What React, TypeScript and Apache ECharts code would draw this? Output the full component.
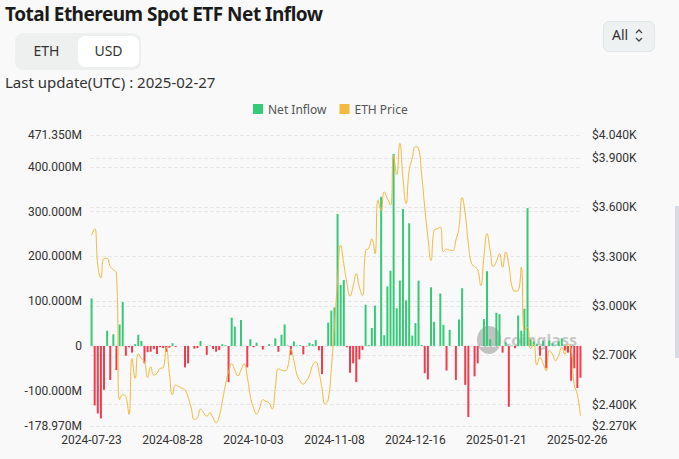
import React, { useEffect, useRef } from "react";
import * as echarts from "echarts";

// ---------- data ----------
const firstDay = "2024-07-23";
const lastDay = "2025-02-27";

// Net inflow per trading day, in millions of USD
const netInflow: number[] = [
  106, -133, -151, -162, -98, 34, -76, 26, -54, 48,
  98, -22, -3, -15, 4, 25, 11, -39, -14, -13,
  -7, -18, -3, -5, -13, -4, 6, -2, 0, 0,
  -48, -39, 0, -6, -5, 11, 0, -20, 1, -7,
  -13, -9, 4, 2, -81, 63, 43, 0, 58, 0,
  -48, 15, -3, 7, 0, -8, 0, 4, 0, 17,
  -13, 25, 48, 1, -20, 10, 1, 2, -19, -1,
  7, 4, 13, -10, -63, 0, 52, 79, 86, 295,
  136, 147, -3, -60, -39, -81, -30, -9, 92, 2,
  40, 90, 0, 333, 24, 133, 168, 429, 84, 146,
  306, 102, 274, 23, 51, 146, 2, -61, -75, 131,
  54, 0, 117, 47, -55, 36, 0, -76, 59, 129,
  -87, -159, 0, -68, -39, 0, 60, 167, 15, 0,
  74, 71, -15, 8, -136, 1, -5, 68, 34, 83,
  308, 15, 10, 5, -22, 12, -50, 12, 6, 0,
  10, 17, -10, -15, -78, -50, -94, -71,
];

// ETH price (USD) per trading day
const ethPrice: number[] = [
  3430, 3470, 3250, 3170, 3290, 3290, 3240, 3220, 3200, 2430,
  2460, 2450, 2340, 2680, 2560, 2710, 2680, 2660, 2565, 2630,
  2580, 2590, 2620, 2625, 2748, 2590, 2460, 2520, 2510, 2500,
  2490, 2445, 2380, 2310, 2320, 2373, 2350, 2330, 2350, 2320,
  2290, 2330, 2420, 2520, 2600, 2648, 2610, 2575, 2610, 2648,
  2570, 2450, 2380, 2343, 2380, 2430, 2420, 2410, 2373, 2500,
  2618, 2610, 2605, 2630, 2738, 2667, 2580, 2545, 2524, 2545,
  2580, 2640, 2660, 2600, 2500, 2404, 2430, 2620, 2880, 3155,
  3369, 3257, 3140, 3060, 3120, 3196, 3114, 3063, 3338, 3350,
  3409, 3318, 3643, 3582, 3694, 3653, 3613, 3918, 3800, 3989,
  3780, 3623, 3826, 3900, 3969, 3960, 3800, 3600, 3420, 3277,
  3460, 3470, 3480, 3330, 3345, 3340, 3338, 3400, 3480, 3660,
  3560, 3380, 3260, 3240, 3220, 3124, 3300, 3440, 3338, 3240,
  3270, 3318, 3236, 3328, 3250, 3120, 3090, 3094, 3236, 2850,
  2870, 2740, 2768, 2640, 2687, 2650, 2605, 2728, 2707, 2667,
  2700, 2748, 2707, 2768, 2740, 2520, 2463, 2330,
];

const inflowAxisRange = [-178.97, 471.35]; // millions
const priceAxisRange = [2270, 4040];
const legendNames = ["Net Inflow", "ETH Price"];

const GREEN = "#36c978";
const RED = "#f23b4c";
const GOLD = "#f2b840";

function weekdaysBetween(a: string, b: string): string[] {
  const out: string[] = [];
  const d = new Date(a + "T00:00:00Z");
  const end = new Date(b + "T00:00:00Z");
  while (d <= end) {
    const wd = d.getUTCDay();
    if (wd !== 0 && wd !== 6) out.push(d.toISOString().slice(0, 10));
    d.setUTCDate(d.getUTCDate() + 1);
  }
  return out;
}
const dates = weekdaysBetween(firstDay, lastDay);

export default function App() {
  const ref = useRef<HTMLDivElement>(null);

  useEffect(() => {
    if (!ref.current) return;
    const chart = echarts.init(ref.current, undefined, { renderer: "svg" });
    chart.setOption({
      animation: false,
      textStyle: { fontFamily: "Roboto, 'Noto Sans', sans-serif" },
      legend: {
        data: legendNames,
        left: 248,
        top: 98,
        icon: "rect",
        itemWidth: 10,
        itemHeight: 10,
        itemGap: 13,
        textStyle: { fontSize: 12, color: "#555", fontFamily: "'Noto Sans', sans-serif" },
      },
      grid: { left: 90, right: 97, top: 135, bottom: 33, containLabel: false, outerBoundsMode: "none" },
      xAxis: {
        type: "category",
        data: dates,
        boundaryGap: true,
        axisLine: { show: false },
        axisTick: { show: false },
        splitLine: { show: false },
        axisLabel: { interval: 25, color: "#333", fontSize: 12, margin: 8 },
      },
      yAxis: [
        {
          type: "value",
          min: inflowAxisRange[0],
          max: inflowAxisRange[1],
          splitNumber: 5,
          axisLine: { show: false },
          axisTick: { show: false },
          axisLabel: {
            color: "#333",
            fontSize: 12,
            margin: 8,
            formatter: (v: number) => (v === 0 ? "0" : v.toFixed(3) + "M"),
          },
          splitLine: { lineStyle: { type: "dashed", color: "#e7e7e7" } },
        },
        {
          type: "value",
          position: "right",
          min: priceAxisRange[0],
          max: priceAxisRange[1],
          splitNumber: 5,
          axisLine: { show: false },
          axisTick: { show: false },
          axisLabel: {
            color: "#333",
            fontSize: 12,
            margin: 10,
            formatter: (v: number) => "$" + (v / 1000).toFixed(3) + "K",
          },
          splitLine: { lineStyle: { type: "dashed", color: "#e7e7e7" } },
        },
      ],
      series: [
        {
          name: legendNames[0],
          type: "bar",
          barWidth: 2,
          itemStyle: { color: GREEN },
          data: netInflow.map((v) => ({ value: v, itemStyle: { color: v >= 0 ? GREEN : RED } })),
        },
        {
          name: legendNames[1],
          type: "line",
          yAxisIndex: 1,
          smooth: true,
          symbol: "none",
          z: 3,
          lineStyle: { width: 1, color: GOLD },
          itemStyle: { color: GOLD },
          data: ethPrice,
        },
      ],
      graphic: [
        {
          type: "group",
          z: 10,
          children: [
            { type: "ellipse", shape: { cx: 489, cy: 340, rx: 12, ry: 14 }, style: { fill: "rgba(150,150,150,0.55)" } },
            {
              type: "text",
              x: 503,
              y: 332,
              style: {
                text: "coinglass",
                fill: "rgba(150,150,150,0.5)",
                font: "bold 16px 'Noto Sans', sans-serif",
              },
            },
          ],
        },
      ],
    });
    return () => chart.dispose();
  }, []);

  const txt: React.CSSProperties = { position: "absolute", fontFamily: "'Noto Sans', sans-serif", color: "#333", whiteSpace: "nowrap" };

  return (
    <div style={{ position: "fixed", left: 0, top: 0, width: 679, height: 459, background: "#f9f9f9", overflow: "hidden" }}>
      <div style={{ ...txt, left: 5, top: 1, fontSize: 19, fontWeight: 700, color: "#1b1b1b", letterSpacing: -0.5 }}>
        Total Ethereum Spot ETF Net Inflow
      </div>
      <div style={{ position: "absolute", left: 15, top: 33, width: 126, height: 37, background: "#eef0f0", borderRadius: 8 }} />
      <div style={{ position: "absolute", left: 78, top: 36, width: 61, height: 31, background: "#ffffff", borderRadius: 7 }} />
      <div style={{ ...txt, left: 15, top: 41, width: 63, textAlign: "center", fontSize: 14 }}>ETH</div>
      <div style={{ ...txt, left: 78, top: 41, width: 61, textAlign: "center", fontSize: 14 }}>USD</div>
      <div style={{ ...txt, left: 5, top: 72, fontSize: 15 }}>Last update(UTC) : 2025-02-27</div>
      <div style={{ position: "absolute", left: 603, top: 21, width: 50, height: 29, background: "#eef1f1", border: "1px solid #e2e6e6", borderRadius: 6 }} />
      <div style={{ ...txt, left: 612, top: 25, fontSize: 14 }}>All</div>
      <svg style={{ position: "absolute", left: 634, top: 28 }} width="10" height="16" viewBox="0 0 10 16">
        <polyline points="2,5 5,2 8,5" fill="none" stroke="#444" strokeWidth="1.3" />
        <polyline points="2,10 5,13 8,10" fill="none" stroke="#444" strokeWidth="1.3" />
      </svg>
      <div style={{ position: "absolute", left: 675, top: 206, width: 4, height: 152, background: "#d7dce4" }} />
      <div ref={ref} style={{ position: "absolute", left: 0, top: 0, width: 679, height: 459 }} />
    </div>
  );
}
